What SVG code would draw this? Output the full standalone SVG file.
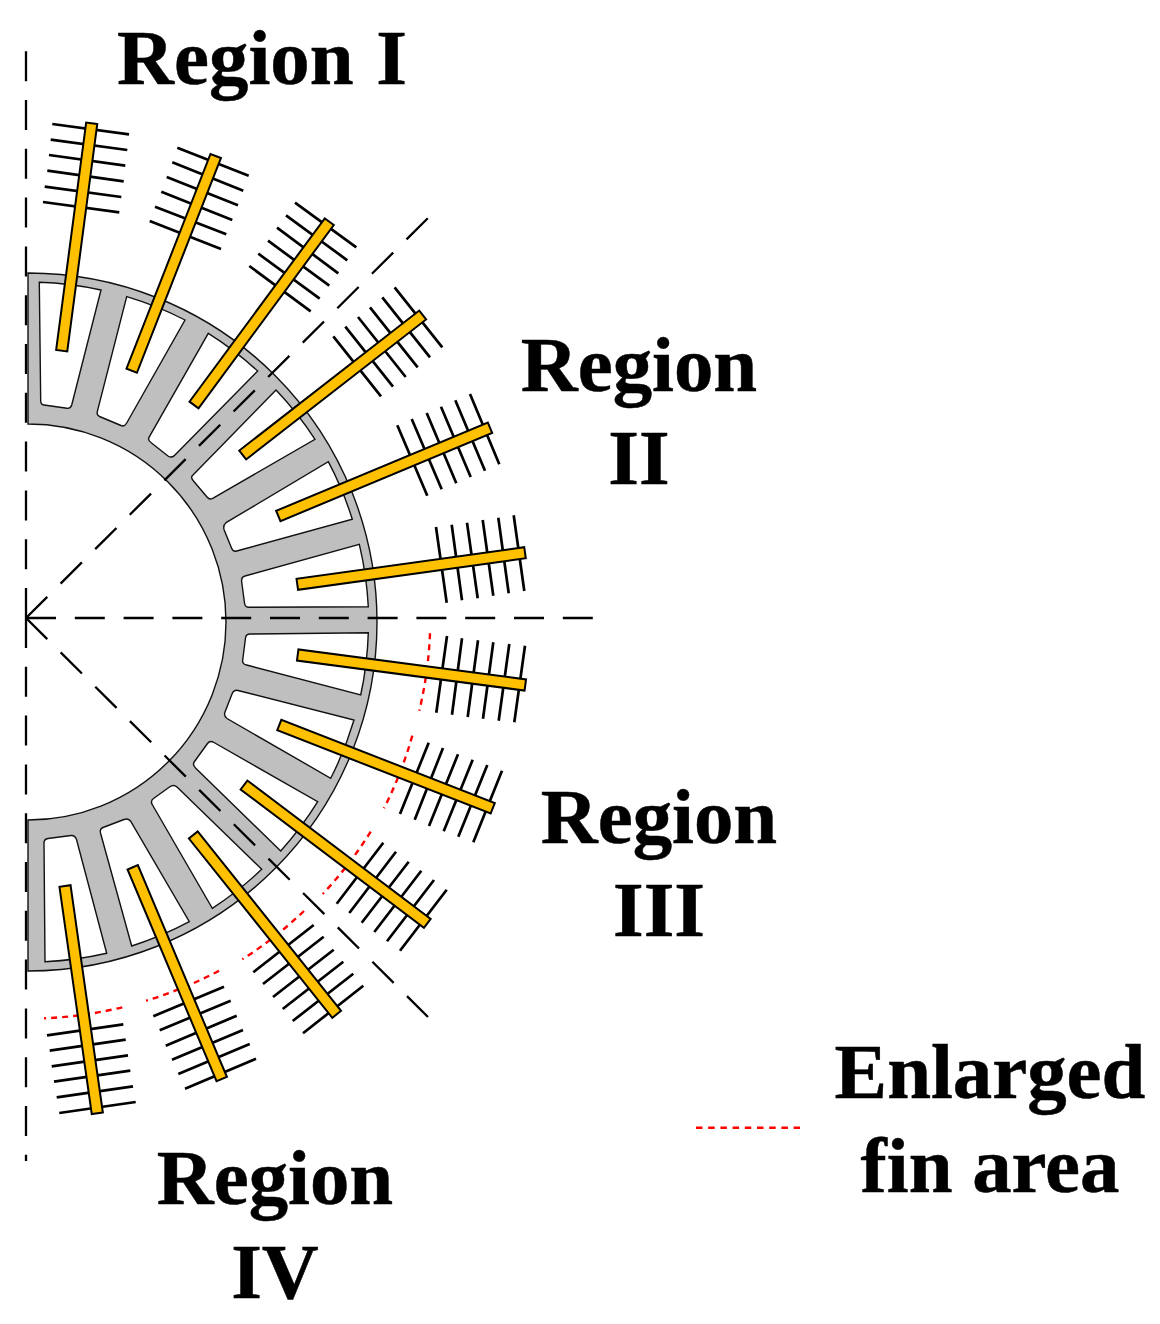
<svg xmlns="http://www.w3.org/2000/svg" width="1160" height="1324" viewBox="0 0 1160 1324">
<style>
.ring{fill:#BFBFBF;stroke:#111;stroke-width:1.4}
.slot{fill:#fff;stroke:#111;stroke-width:1.4}
.dash{fill:none;stroke:#000;stroke-width:2.3;stroke-dasharray:30 18.8}
.fin{fill:none;stroke:#000;stroke-width:2.7}
.rod{fill:#FFC000;stroke:#000;stroke-width:2}
.red{fill:none;stroke:#FF0000;stroke-width:2.4;stroke-dasharray:6 5}
.lab{font-family:"Liberation Serif","Times New Roman",serif;font-weight:bold;font-size:78.8px;fill:#000;stroke:#000;stroke-width:0.5;text-anchor:middle}
</style>
<rect width="1160" height="1324" fill="#fff"/>
<g id="stator">
<path class="ring" d="M28 273 A349 349 0 0 1 28 971 L28 820 A198 198 0 0 0 28 424 Z"/>
<path class="slot" d="M39.3 282.3 A341 341 0 0 1 101 290 L71.7 405 Q70.5 408.7 67 408.3 L44 405 Q40.7 404.5 40.7 401 Z"/>
<path class="slot" d="M126.7 296.7 A341 341 0 0 1 185 320 L126.7 423 Q124.5 427 121 425.5 L99.5 416.5 Q96.5 415 97.3 411.7 Z"/>
<path class="slot" d="M208.3 333.3 A341 341 0 0 1 257.7 371 L175 455 Q172 458.5 168 456 L151.5 443 Q147.5 440.5 149 437.3 Z"/>
<path class="slot" d="M276 390 A341 341 0 0 1 315 439.3 L212.7 498.3 Q209.5 500 207 497 L193.5 481 Q190.5 477.5 192.3 475.7 Z"/>
<path class="slot" d="M328.3 461.7 A341 341 0 0 1 352.3 519.3 L236.7 551 Q233 552 231.5 548 L224 529.5 Q223 525 226 522.7 Z"/>
<path class="slot" d="M359.3 544.3 A341 341 0 0 1 368.3 606.7 L248.3 607.3 Q245 607 244.5 603 L241.7 582 Q241 577 245 576 Z"/>
<path class="slot" d="M368.3 632.7 A341 341 0 0 1 360.7 695 L246.7 665 Q242 664 242.7 660 L245.5 638 Q246 634 250 634 Z"/>
<path class="slot" d="M354 720 A341 341 0 0 1 330.7 778.3 L227 718.5 Q223.5 716 225 712 L232 694 Q234 689.5 238 690.5 Z"/>
<path class="slot" d="M317.7 801.7 A341 341 0 0 1 280.7 851 L195.5 768 Q192 765 194.5 761.5 L207.5 743.5 Q210 740 214 742.5 Z"/>
<path class="slot" d="M261.7 869.3 A341 341 0 0 1 212.3 908.3 L152.5 805 Q150 801 153.5 798.5 L169.5 787 Q173.5 784 177 787 Z"/>
<path class="slot" d="M189.3 921.7 A341 341 0 0 1 131.7 946 L100.5 833 Q99.5 829 103 827.5 L124 819.5 Q128 818 130.5 821 Z"/>
<path class="slot" d="M106.7 953.3 A341 341 0 0 1 45 961.7 L44 843 Q44 839 48 838.5 L71 835.5 Q75 835 76.5 839.5 Z"/>
</g>
<g id="connectors">
<path class="dash" d="M26 51.2 V618"/>
<path class="dash" d="M26 618 V1161"/>
<path class="dash" d="M26 618 H594"/>
<path class="dash" d="M26 618 L428 218"/>
<path class="dash" d="M26 618 L428 1017"/>
</g>
<g id="enlarged-fin-area">
<path class="red" d="M430 633.3 A402 402 0 0 1 419.3 710.7"/>
<path class="red" d="M412.3 735.7 A402 402 0 0 1 384 808.3"/>
<path class="red" d="M370.7 831.7 A402 402 0 0 1 322.7 894"/>
<path class="red" d="M304 911 A400 400 0 0 1 242.3 959.3"/>
<path class="red" d="M219 970.7 A398 398 0 0 1 146 1000.7"/>
<path class="red" d="M122.3 1007.3 A397 397 0 0 1 44 1018.3"/>
<path class="red" d="M696 1127.7 H800" style="stroke-dasharray:6.5 5.7"/>
</g>
<g id="fins">
<path class="fin" d="M52.3 124L129 134.3M50.7 139.7L127.3 150M49 155L125.3 165.7M47.3 170.7L123.7 181.3M44.7 186.7L121.3 197M43 202L119.3 212.3"/>
<path class="fin" d="M177.3 147.7L248.7 175.7M172.3 162.3L243.3 190.7M166.7 177L238 205.3M161.3 191.7L232.3 220M155 206.7L226.3 234.3M149.7 221L221 249"/>
<path class="fin" d="M295 202.7L356.3 247.3M286 215.3L347.3 260.3M277 227.7L338.3 273.3M268 240.7L329.3 285.7M258.3 253.7L319.7 298.7M249.3 266L310.7 311.3"/>
<path class="fin" d="M333.3 336.3L381 396.3M345.3 326.7L393 386.7M358 317L405.7 377M370 307.3L417.7 367.3M382.3 297.3L430 357.3M394.6 287.3L442.3 347.3"/>
<path class="fin" d="M397.3 425.3L427.3 495.7M411.7 419L441.7 489.3M426.7 413L456.3 483.3M441 406.7L470.7 477M455.3 400.3L485 470.7M470 394L499.3 464.3"/>
<path class="fin" d="M436 527L446.7 602.7M451.7 524.7L462 600.3M467 522.7L477.7 598.3M482.7 520L493.3 595.7M498.3 517.7L508.7 593.3M513.7 515.3L524.3 591"/>
<path class="fin" d="M447 636L436.3 712.7M462 638.3L452 714.7M478 640.3L467.7 717M493.3 642.3L483 718.7M509.3 644L498.7 720.7M525 645.7L514.3 722.3"/>
<path class="fin" d="M428.7 742.7L400 814M443 748L414.7 819.7M458 754.3L429 826M472.7 759.7L443.7 831.3M487.3 765L458.3 836.7M502 770.7L473.3 842.3"/>
<path class="fin" d="M383.3 842.7L336.7 903.7M396 851.7L349.3 913M408.7 861.7L361.7 922.7M421.3 870.7L374.3 932M434 880L387 941.3M446.7 889.7L400 950.7"/>
<path class="fin" d="M313.7 925L253.3 972.3M323.7 936.7L263 984M333.7 949.7L273 997M343.3 961.7L282.7 1009M353.3 973.7L292.7 1021M363.3 985.7L303 1033.3"/>
<path class="fin" d="M224 986.7L153.3 1016.3M230.7 1000.7L159.7 1030.3M236.7 1015.7L165.7 1045.7M243 1030L172 1059.7M249.7 1044L178.3 1074M256 1058.7L185 1088.7"/>
<path class="fin" d="M123.3 1024.3L47 1035.3M125.7 1039.7L49.7 1050.7M128 1055.3L51.7 1066.3M130.3 1070.7L54 1081.7M133 1086.3L56.7 1097.3M135.7 1102L59.3 1113"/>
</g>
<g id="rods">
<polygon class="rod" points="97.25,124.04 86.15,122.56 56.15,349.96 67.25,351.44"/>
<polygon class="rod" points="220.91,158.04 210.49,153.96 126.49,368.66 136.91,372.74"/>
<polygon class="rod" points="333.81,225.02 324.79,218.38 189.49,401.68 198.51,408.32"/>
<polygon class="rod" points="426.14,319.42 419.26,310.58 239.26,450.58 246.14,459.42"/>
<polygon class="rod" points="492.16,432.87 487.84,422.53 276.14,510.83 280.46,521.17"/>
<polygon class="rod" points="525.77,558.24 524.23,547.16 296.53,578.76 298.07,589.84"/>
<polygon class="rod" points="526.04,679.45 524.56,690.55 296.96,660.55 298.44,649.45"/>
<polygon class="rod" points="494.74,803.08 490.66,813.52 277.26,730.22 281.34,719.78"/>
<polygon class="rod" points="430.67,918.83 423.93,927.77 240.63,789.47 247.37,780.53"/>
<polygon class="rod" points="341.08,1010.8 332.32,1017.8 188.92,838.5 197.68,831.5"/>
<polygon class="rod" points="226.86,1076.83 216.54,1081.17 127.54,869.47 137.86,865.13"/>
<polygon class="rod" points="102.84,1112.51 91.76,1114.09 59.46,886.79 70.54,885.21"/>
</g>
<g id="labels">
<text class="lab" x="262" y="84" word-spacing="3">Region I</text>
<text class="lab" x="639" y="391">Region</text>
<text class="lab" x="639" y="484">II</text>
<text class="lab" x="659" y="843">Region</text>
<text class="lab" x="659" y="936">III</text>
<text class="lab" x="275" y="1204">Region</text>
<text class="lab" x="275" y="1298">IV</text>
<text class="lab" x="990" y="1098">Enlarged</text>
<text class="lab" x="990" y="1192">fin area</text>
</g>
</svg>
